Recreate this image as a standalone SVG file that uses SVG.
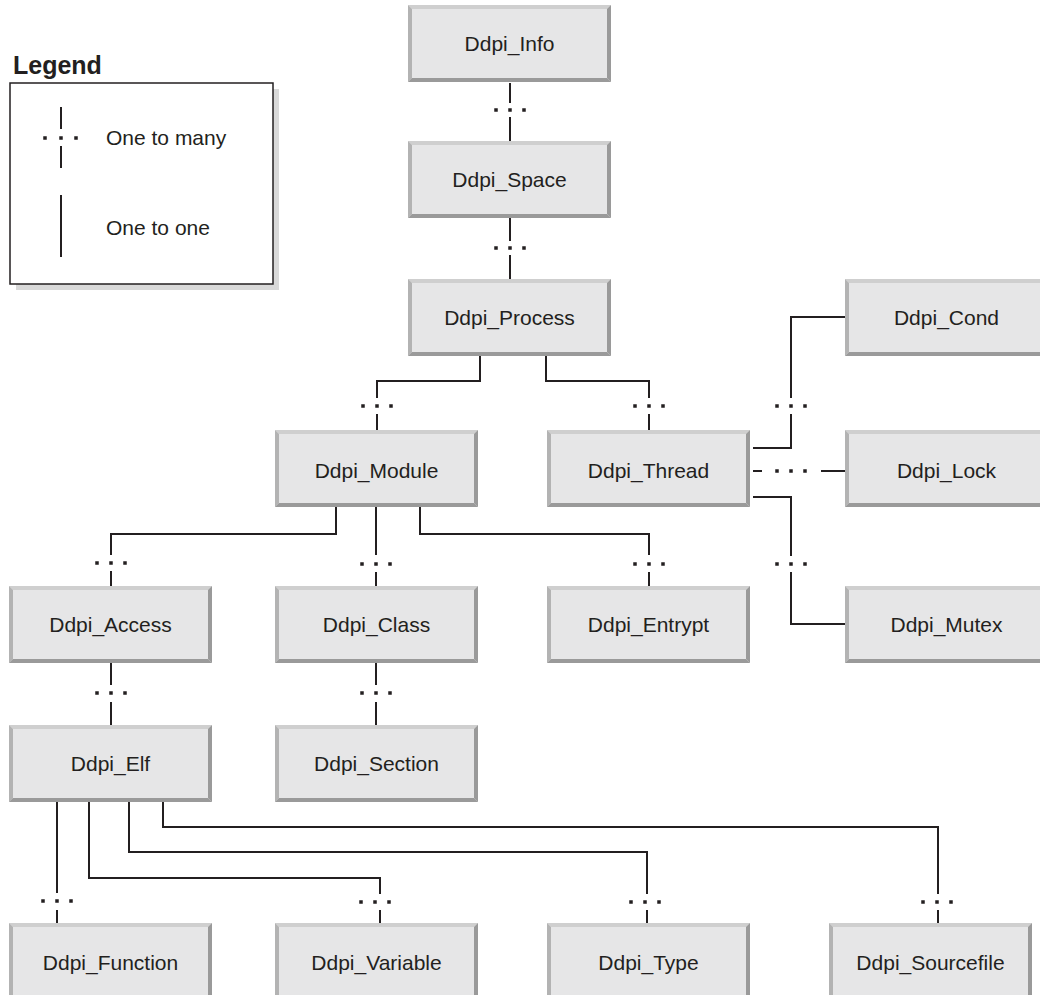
<svg xmlns="http://www.w3.org/2000/svg" xmlns:xlink="http://www.w3.org/1999/xlink" width="1040" height="995" viewBox="0 0 1040 995">
<style>
.lbl{font-family:"Liberation Sans",Arial,sans-serif;font-size:21px;fill:#231f20;text-anchor:middle}
.leg{font-family:"Liberation Sans",Arial,sans-serif;font-size:21px;fill:#231f20}
.title{font-family:"Liberation Sans",Arial,sans-serif;font-size:25px;font-weight:bold;fill:#231f20}
.ln{fill:none;stroke:#231f20;stroke-width:2}
</style>
<defs>
<g id="bx">
<rect x="0" y="0" width="203" height="77" fill="#e6e6e7"/>
<polygon points="0,0 203,0 199,4 4,4" fill="#cfcfcf"/>
<polygon points="0,0 4,4 4,73 0,77" fill="#b3b3b3"/>
<polygon points="203,0 203,77 199,73 199,4" fill="#9a9a9a"/>
<polygon points="0,77 203,77 199,73 4,73" fill="#9a9a9a"/>
</g>
<g id="dots" fill="#231f20">
<rect x="-15.75" y="-1.75" width="3.5" height="3.5"/>
<rect x="-1.75" y="-1.75" width="3.5" height="3.5"/>
<rect x="12.25" y="-1.75" width="3.5" height="3.5"/>
</g>
</defs>
<rect width="1040" height="995" fill="#ffffff"/>
<g id="legend">
<text class="title" x="13" y="74">Legend</text>
<rect x="16" y="89" width="263" height="201" fill="#d9d9d9"/>
<rect x="10" y="83" width="263" height="201" fill="#ffffff" stroke="#231f20" stroke-width="1.5"/>
<path class="ln" d="M61 107 V129 M61 146 V168 M61 195 V257"/>
<rect x="43.25" y="136.25" width="3.5" height="3.5" fill="#231f20"/>
<rect x="59.25" y="136.25" width="3.5" height="3.5" fill="#231f20"/>
<rect x="74.25" y="136.25" width="3.5" height="3.5" fill="#231f20"/>
<text class="leg" x="106" y="145">One to many</text>
<text class="leg" x="106" y="235">One to one</text>
</g>
<g id="connectors">
<path class="ln" d="M510 83 V103 M510 117 V142"/>
<use xlink:href="#dots" href="#dots" x="510" y="110"/>
<path class="ln" d="M510 217 V241 M510 255 V279"/>
<use xlink:href="#dots" href="#dots" x="510" y="248"/>
<path class="ln" d="M480 356 V381 H377 V398 M377 414 V430"/>
<use xlink:href="#dots" href="#dots" x="377" y="406"/>
<path class="ln" d="M546 356 V381 H649 V398 M649 414 V430"/>
<use xlink:href="#dots" href="#dots" x="649" y="406"/>
<path class="ln" d="M753 448 H791 V414 M791 398 V317 H845"/>
<use xlink:href="#dots" href="#dots" x="791" y="406"/>
<path class="ln" d="M753 471 H762 M821 471 H845"/>
<use xlink:href="#dots" href="#dots" x="791" y="471"/>
<path class="ln" d="M753 497 H791 V556 M791 572 V624 H845"/>
<use xlink:href="#dots" href="#dots" x="791" y="564"/>
<path class="ln" d="M336 507 V534 H111 V555 M111 571 V586"/>
<use xlink:href="#dots" href="#dots" x="111" y="563"/>
<path class="ln" d="M376 507 V555 M376 572 V586"/>
<use xlink:href="#dots" href="#dots" x="376" y="564"/>
<path class="ln" d="M420 507 V534 H649 V555 M649 572 V586"/>
<use xlink:href="#dots" href="#dots" x="649" y="564"/>
<path class="ln" d="M111 663 V685 M111 702 V725"/>
<use xlink:href="#dots" href="#dots" x="111" y="693"/>
<path class="ln" d="M376 663 V685 M376 702 V725"/>
<use xlink:href="#dots" href="#dots" x="376" y="693"/>
<path class="ln" d="M57 802 V893 M57 910 V923"/>
<use xlink:href="#dots" href="#dots" x="57" y="901"/>
<path class="ln" d="M89 802 V878 H380 V894 M380 910 V923"/>
<use xlink:href="#dots" href="#dots" x="375" y="902"/>
<path class="ln" d="M129 802 V852 H647 V894 M647 910 V923"/>
<use xlink:href="#dots" href="#dots" x="645" y="902"/>
<path class="ln" d="M163 802 V827 H938 V894 M938 910 V923"/>
<use xlink:href="#dots" href="#dots" x="937" y="902"/>
</g>
<g id="n-info"><use xlink:href="#bx" href="#bx" x="408" y="5"/><text class="lbl" x="509.5" y="51">Ddpi_Info</text></g>
<g id="n-space"><use xlink:href="#bx" href="#bx" x="408" y="141"/><text class="lbl" x="509.5" y="187">Ddpi_Space</text></g>
<g id="n-process"><use xlink:href="#bx" href="#bx" x="408" y="279"/><text class="lbl" x="509.5" y="325">Ddpi_Process</text></g>
<g id="n-cond"><use xlink:href="#bx" href="#bx" x="845" y="279"/><text class="lbl" x="946.5" y="325">Ddpi_Cond</text></g>
<g id="n-module"><use xlink:href="#bx" href="#bx" x="275" y="430"/><text class="lbl" x="376.5" y="478">Ddpi_Module</text></g>
<g id="n-thread"><use xlink:href="#bx" href="#bx" x="547" y="430"/><text class="lbl" x="648.5" y="478">Ddpi_Thread</text></g>
<g id="n-lock"><use xlink:href="#bx" href="#bx" x="845" y="430"/><text class="lbl" x="946.5" y="478">Ddpi_Lock</text></g>
<g id="n-access"><use xlink:href="#bx" href="#bx" x="9" y="586"/><text class="lbl" x="110.5" y="632">Ddpi_Access</text></g>
<g id="n-class"><use xlink:href="#bx" href="#bx" x="275" y="586"/><text class="lbl" x="376.5" y="632">Ddpi_Class</text></g>
<g id="n-entrypt"><use xlink:href="#bx" href="#bx" x="547" y="586"/><text class="lbl" x="648.5" y="632">Ddpi_Entrypt</text></g>
<g id="n-mutex"><use xlink:href="#bx" href="#bx" x="845" y="586"/><text class="lbl" x="946.5" y="632">Ddpi_Mutex</text></g>
<g id="n-elf"><use xlink:href="#bx" href="#bx" x="9" y="725"/><text class="lbl" x="110.5" y="771">Ddpi_Elf</text></g>
<g id="n-section"><use xlink:href="#bx" href="#bx" x="275" y="725"/><text class="lbl" x="376.5" y="771">Ddpi_Section</text></g>
<g id="n-function"><use xlink:href="#bx" href="#bx" x="9" y="923"/><text class="lbl" x="110.5" y="970">Ddpi_Function</text></g>
<g id="n-variable"><use xlink:href="#bx" href="#bx" x="275" y="923"/><text class="lbl" x="376.5" y="970">Ddpi_Variable</text></g>
<g id="n-type"><use xlink:href="#bx" href="#bx" x="547" y="923"/><text class="lbl" x="648.5" y="970">Ddpi_Type</text></g>
<g id="n-sourcefile"><use xlink:href="#bx" href="#bx" x="829" y="923"/><text class="lbl" x="930.5" y="970">Ddpi_Sourcefile</text></g>
</svg>
